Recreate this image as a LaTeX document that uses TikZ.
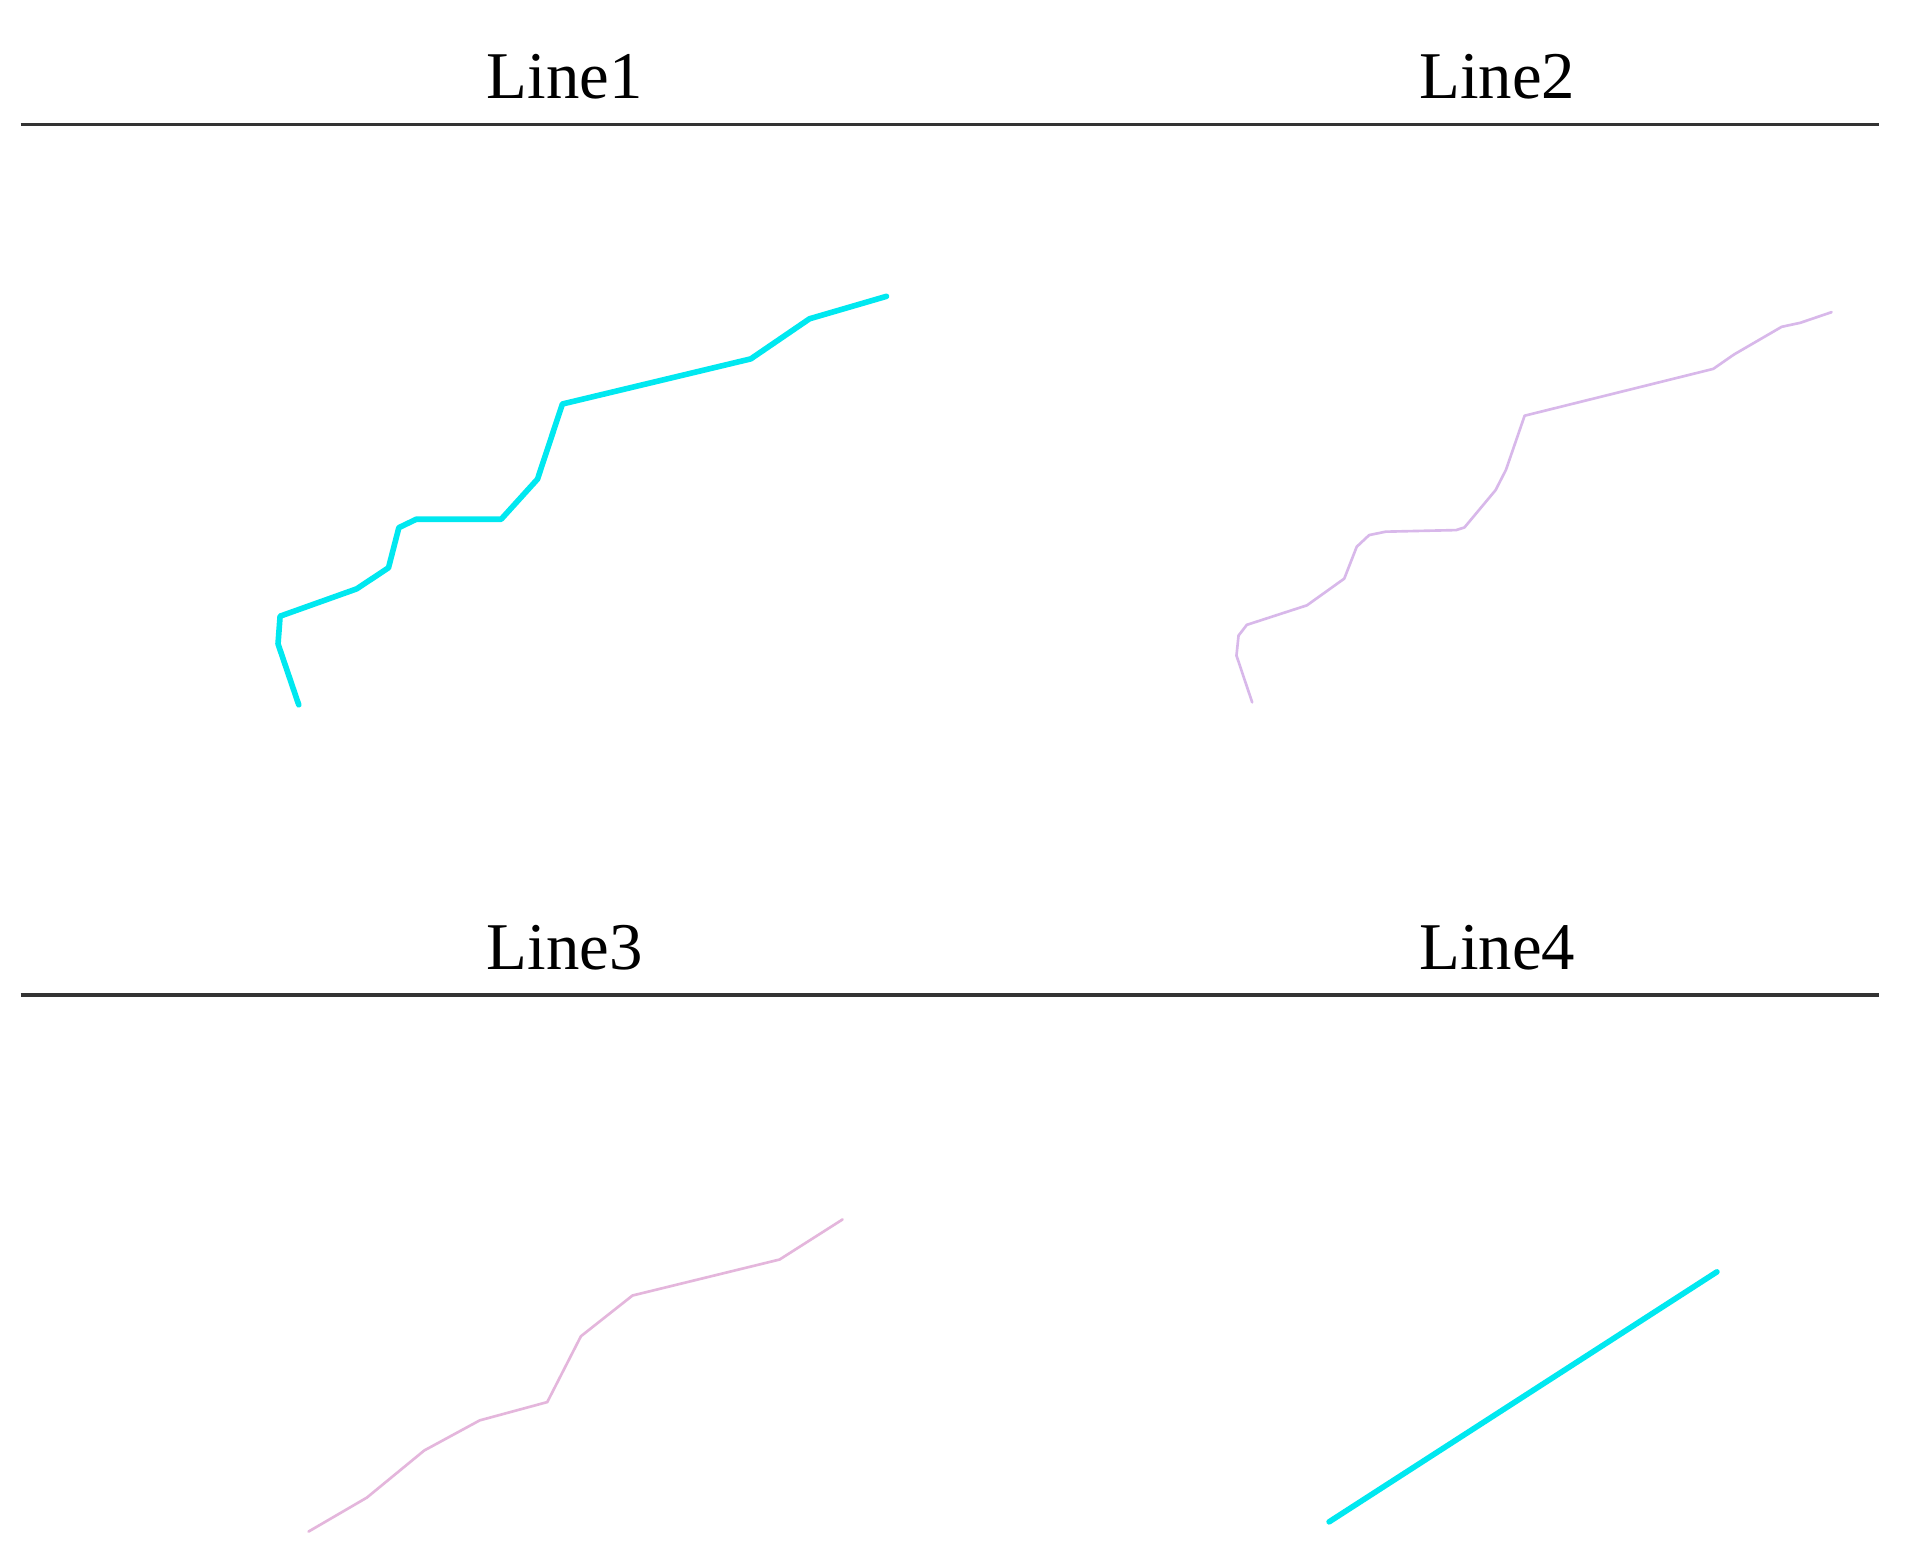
\documentclass[tikz,border=0pt]{standalone}
\usepackage{fontspec}
\setmainfont{Liberation Serif}
\definecolor{cyanline}{RGB}{0,232,240}
\definecolor{lilac}{RGB}{216,184,234}
\definecolor{pinklilac}{RGB}{228,182,220}
\begin{document}
\begin{tikzpicture}[x=0.012194cm,y=-0.012194cm,
  title/.style={font=\fontsize{19}{22}\selectfont, inner sep=0pt, anchor=base},
  rule/.style={line width=0.9pt, black!80},
  thick cyan/.style={cyanline, line width=1.6pt, line join=round, line cap=round},
  thin lilac/.style={lilac, line width=0.75pt, line join=round, line cap=round},
  thin pink/.style={pinklilac, line width=0.75pt, line join=round, line cap=round}]
\useasboundingbox (0,0) rectangle (1568,1282);
\fill[white] (0,0) rectangle (1568,1282);
% headers
\node[title] (t1) at (463,81) {Line1};
\node[title] (t2) at (1228,81) {Line2};
\node[title] (t3) at (463,795) {Line3};
\node[title] (t4) at (1228,795) {Line4};
\coordinate (r1a) at (17,102); \coordinate (r1b) at (1541,102);
\coordinate (r2a) at (17,816); \coordinate (r2b) at (1541,816);
\draw[rule] (r1a) -- (r1b);
\draw[rule] (r2a) -- (r2b);
% Line1
\draw[thick cyan] (245,578) -- (228,528) -- (229.7,505.3) -- (292.5,482.9) -- (318.6,465.6)
  -- (327.1,432.7) -- (341.4,425.8) -- (411,425.8) -- (440.8,392.9) -- (461.2,331.3)
  -- (615.7,294.3) -- (663.9,261.4) -- (727,243);
% Line2
\draw[thin lilac] (1026.9,576) -- (1014,537.6) -- (1015.7,521.2) -- (1022.5,512.4)
  -- (1071.8,496.4) -- (1102.4,474.5) -- (1112.6,448.4) -- (1122.8,438.8)
  -- (1136.4,436) -- (1194.2,434.7) -- (1201,432.5)
  -- (1226.5,401.9) -- (1235,385.3) -- (1250.3,340.9) -- (1405,302.5)
  -- (1422,290.7) -- (1461.1,268) -- (1476.4,264.7) -- (1502,256);
% Line3
\draw[thin pink] (253,1256) -- (300.9,1228.1) -- (347.9,1189.5) -- (393.4,1164.8)
  -- (448.8,1149.8) -- (476.4,1095.8) -- (518.7,1062.4) -- (639.3,1032.9) -- (691,1000);
% Line4
\coordinate (l4a) at (1090,1248);
\coordinate (l4b) at (1408,1043);
\draw[thick cyan] (l4a) -- (l4b);
\end{tikzpicture}
\end{document}
